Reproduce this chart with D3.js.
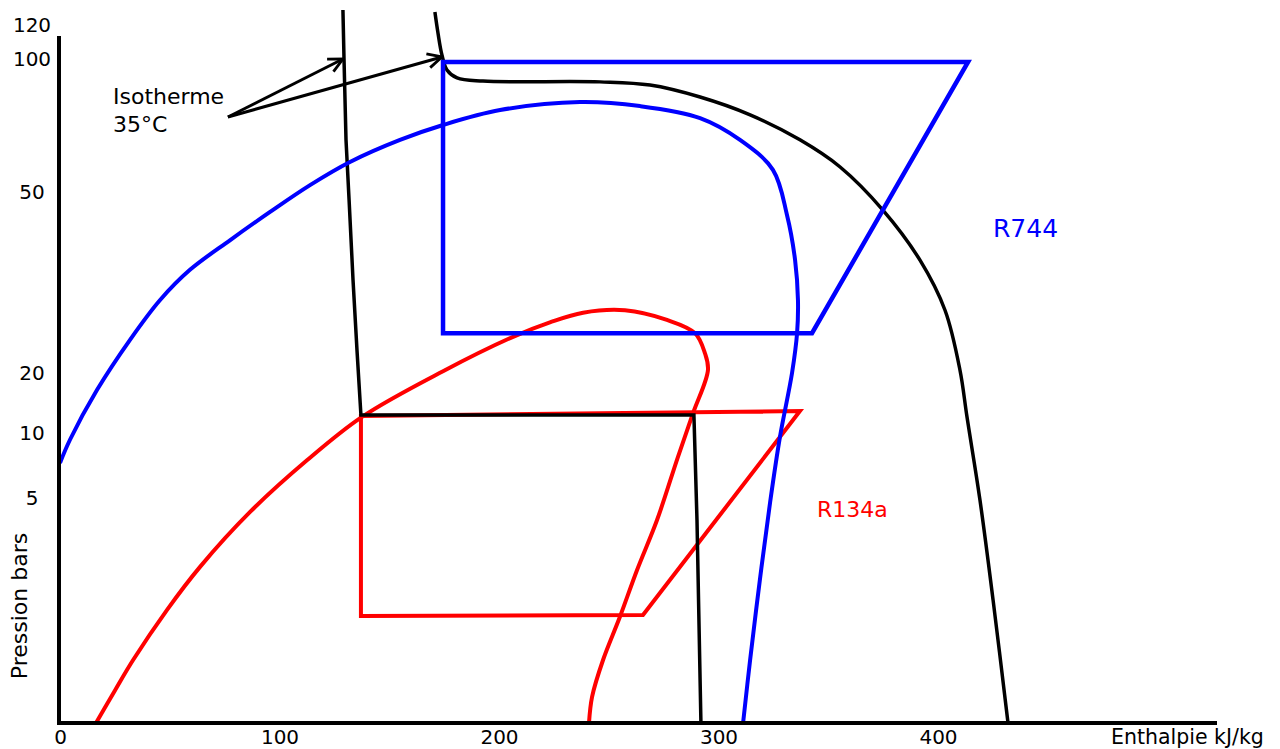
<!DOCTYPE html>
<html>
<head>
<meta charset="utf-8">
<script src="https://cdn.jsdelivr.net/npm/d3@7"></script>
<style>
  body { margin: 0; background: #fff; overflow: hidden; }
  text { font-family: "DejaVu Sans", Verdana, sans-serif; }
</style>
</head>
<body>
<div id="chart"></div>
<script>
// Axis ticks
var hTicks = [0, 100, 200, 300, 400]
var pTicks = [5, 10, 20, 50, 100, 120]

// All curves are [enthalpy kJ/kg, pressure bar]
var r744Dome = [
  [0, 7.7], [4.6, 9.5], [16.9, 17.2], [31.9, 25.5], [45.6, 32.1], [59.2, 37.1],
  [77.4, 42.0], [95.7, 46.7], [113.9, 52.6], [132.1, 61.3], [154.9, 69.6],
  [174.5, 75.2], [200.5, 80.8], [236.9, 83.8], [264.2, 82.3], [291.6, 77.8],
  [309.8, 69.6], [324.8, 58.3], [331.2, 46.2], [334.9, 38.7], [336.2, 32.1],
  [335.8, 26.6], [333.5, 20.0], [328.0, 9.7], [323.5, 4.9], [318.9, 3.2],
  [314.4, 1.4], [311.2, 0]
]
var r744Cycle = [[174.5, 98.9], [413.7, 98.9], [342.6, 26.6], [174.5, 26.6]]

var r134aDome = [
  [16.4, 0], [25.1, 0.73], [33.3, 1.4], [48.7, 2.51], [63.8, 3.47], [86.6, 4.69],
  [112.5, 7.9], [137.6, 12.7], [174.5, 20.3], [206.4, 26.0],
  [223.2, 28.4], [238.3, 30.0], [257.4, 30.4], [276.5, 28.8], [289.3, 26.6],
  [293.8, 23.3], [295.2, 20.5], [288.4, 13.3], [281.5, 8.15], [272.0, 4.51],
  [262.9, 3.4], [255.1, 2.36], [247.4, 1.4], [242.4, 0.58], [241.0, 0]
]
var r134aCycle = [[137.1, 12.83], [337.1, 13.67], [265.6, 2.4], [137.1, 2.38]]

// 35°C isotherms
var isoR134a = [
  [128.9, 128.8], [129.4, 99.6], [130.3, 69.6], [131.7, 48.7], [133.5, 35.4],
  [135.3, 23.8], [137.1, 13.0], [288.8, 13.0], [290.2, 4.51], [292.0, 0]
]
var isoR744 = [
  [170.8, 127.6], [172.2, 115.3], [174.0, 102.4], [176.3, 95.9], [180.9, 92.9],
  [192.7, 91.7], [246.0, 91.4], [268.8, 90.2], [291.6, 85.7], [314.4, 79.0],
  [337.1, 69.6], [355.4, 59.4], [374.9, 47.0], [391.8, 38.7], [403.2, 30.4],
  [410.0, 20.5], [413.2, 12.7], [419.1, 4.96], [425.1, 2.73], [431.9, 0]
]

// annotation arrows: tail and heads
var arrowTail = [76.5, 78.2]
var arrowHeads = [[128.9, 100], [174.0, 101.2]]

var chartWidth = 1280
var chartHeight = 749

var svg = d3.select('#chart')
  .append('svg')
  .attr('width', chartWidth)
  .attr('height', chartHeight)

var xScale = d3.scaleLinear().domain([0, 400]).range([60, 938])
// hand drawn pressure axis, piecewise
var yScale = d3.scaleLinear()
  .domain([0, 5, 10, 20, 50, 100, 120])
  .range([723, 498, 433, 373, 192, 59, 25])

svg.append('defs').append('marker')
  .attr('id', 'head')
  .attr('markerUnits', 'userSpaceOnUse')
  .attr('viewBox', '0 0 12 12')
  .attr('refX', 11)
  .attr('refY', 6)
  .attr('markerWidth', 17)
  .attr('markerHeight', 17)
  .attr('orient', 'auto')
  .append('path')
  .attr('d', 'M1,1 L11,6 L1,11')
  .attr('fill', 'none')
  .attr('stroke', 'black')
  .attr('stroke-width', 2)

var smoothLine = d3.line()
  .x(d => xScale(d[0]))
  .y(d => yScale(d[1]))
  .curve(d3.curveCatmullRom.alpha(0.5))

var straightLine = d3.line()
  .x(d => xScale(d[0]))
  .y(d => yScale(d[1]))

var cycleLine = d3.line()
  .x(d => xScale(d[0]))
  .y(d => yScale(d[1]))
  .curve(d3.curveLinearClosed)

// R134a
svg.append('path').attr('d', smoothLine(r134aDome))
  .attr('fill', 'none').attr('stroke', '#ff0000').attr('stroke-width', 4)
svg.append('path').attr('d', cycleLine(r134aCycle))
  .attr('fill', 'none').attr('stroke', '#ff0000').attr('stroke-width', 4)

// isotherms
svg.append('path').attr('d', straightLine(isoR134a))
  .attr('fill', 'none').attr('stroke', 'black').attr('stroke-width', 3.5)
svg.append('path').attr('d', smoothLine(isoR744))
  .attr('fill', 'none').attr('stroke', 'black').attr('stroke-width', 3.5)

// R744
svg.append('path').attr('d', smoothLine(r744Dome))
  .attr('fill', 'none').attr('stroke', '#0000ff').attr('stroke-width', 4)
svg.append('path').attr('d', cycleLine(r744Cycle))
  .attr('fill', 'none').attr('stroke', '#0000ff').attr('stroke-width', 4.5)

// arrows
arrowHeads.forEach(function (h) {
  svg.append('line')
    .attr('x1', xScale(arrowTail[0])).attr('y1', yScale(arrowTail[1]))
    .attr('x2', xScale(h[0])).attr('y2', yScale(h[1]))
    .attr('stroke', 'black').attr('stroke-width', 3)
    .attr('marker-end', 'url(#head)')
})

// axes
var xAxis = svg.append('g')
  .attr('transform', `translate(0,${yScale(0)})`)
  .call(d3.axisBottom(xScale).tickValues(hTicks).tickSize(0).tickPadding(7))
xAxis.select('.domain').remove()
xAxis.selectAll('text').attr('font-size', 20).attr('font-family', null).attr('fill', 'black')

var yAxis = svg.append('g')
  .attr('transform', `translate(${xScale(0)},0)`)
  .call(d3.axisLeft(yScale).tickValues(pTicks).tickSize(0).tickPadding(28))
yAxis.select('.domain').remove()
yAxis.selectAll('text').attr('font-size', 20).attr('font-family', null)
  .attr('fill', 'black').attr('text-anchor', 'middle')

svg.append('line')
  .attr('x1', xScale(0) - 1).attr('x2', xScale(0) - 1)
  .attr('y1', yScale(0) + 2).attr('y2', 36)
  .attr('stroke', 'black').attr('stroke-width', 4)
svg.append('line')
  .attr('x1', xScale(0) - 3).attr('x2', 1217)
  .attr('y1', yScale(0)).attr('y2', yScale(0))
  .attr('stroke', 'black').attr('stroke-width', 4)

// labels
svg.append('text')
  .attr('transform', 'translate(27,606) rotate(-90)')
  .attr('text-anchor', 'middle')
  .attr('font-size', 22)
  .text('Pression bars')

svg.append('text')
  .attr('x', 1111).attr('y', 744)
  .attr('font-size', 20.5)
  .text('Enthalpie kJ/kg')

svg.append('text')
  .attr('x', 113).attr('y', 104)
  .attr('font-size', 22)
  .text('Isotherme')
svg.append('text')
  .attr('x', 113).attr('y', 132)
  .attr('font-size', 22)
  .text('35°C')

svg.append('text')
  .attr('x', 993).attr('y', 237)
  .attr('font-size', 25)
  .attr('fill', '#0000ff')
  .text('R744')

svg.append('text')
  .attr('x', 817).attr('y', 517)
  .attr('font-size', 22)
  .attr('fill', '#ff0000')
  .text('R134a')
</script>
</body>
</html>
